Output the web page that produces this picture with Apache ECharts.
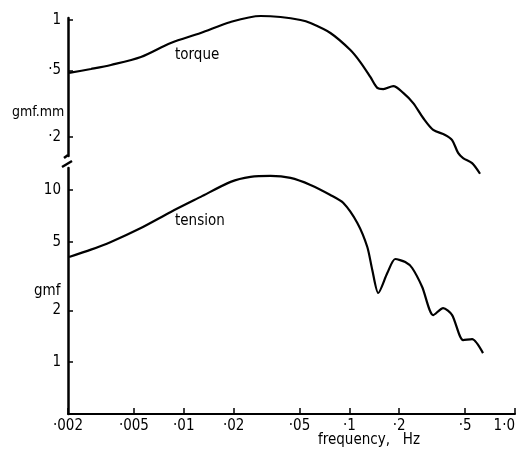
<!DOCTYPE html>
<html><head><meta charset="utf-8">
<script src="https://cdn.jsdelivr.net/npm/echarts@6/dist/echarts.min.js"></script>
<style>html,body{margin:0;padding:0;background:#fff}#c{width:525px;height:461px}</style>
</head><body><div id="c"></div>
<script>
// frequency (Hz) and torque (gmf.mm)
const torqueFreq = [0.00203,0.00275,0.00363,0.00551,0.00835,0.01265,0.01918,0.0291,0.0384,0.0507,0.0582,0.0768,0.1014,0.1164,0.1338,0.1474,0.1602,0.1841,0.2114,0.2429,0.2790,0.3206,0.3786,0.4172,0.4534,0.486,0.5506,0.615];
const torqueVal  = [0.482,0.509,0.538,0.600,0.728,0.836,0.973,1.057,1.042,1.000,0.959,0.836,0.661,0.560,0.456,0.392,0.386,0.402,0.366,0.318,0.259,0.220,0.205,0.191,0.160,0.149,0.139,0.120];
// frequency (Hz) and tension (gmf)
const tensionFreq = [0.00203,0.00275,0.00363,0.00551,0.00835,0.01265,0.01918,0.0253,0.0334,0.0441,0.0582,0.0768,0.0920,0.1117,0.1283,0.1375,0.1494,0.1694,0.1892,0.2174,0.2394,0.2752,0.3206,0.3682,0.4172,0.486,0.5506,0.641];
const tensionVal  = [4.08,4.50,4.99,6.01,7.45,9.11,11.13,11.90,12.06,11.74,10.69,9.35,8.40,6.43,4.66,3.43,2.52,3.29,3.97,3.81,3.52,2.73,1.876,2.06,1.876,1.342,1.36,1.128];

const xTicks = [0.002,0.005,0.01,0.02,0.05,0.1,0.2,0.5,1];
const xTickLabels = ['·002','·005','·01','·02','·05','·1','·2','·5','1·0'];
const torqueTicks = [0.2,0.5,1];
const torqueTickLabels = ['·2','·5','1'];
const tensionTicks = [1,2,5,10];
const tensionTickLabels = ['1','2','5','10'];

const FONT = "'Liberation Sans Narrow','DejaVu Sans Condensed','Liberation Sans',sans-serif";
function fmt(ticks, labels){
  return function(v){
    const i = ticks.findIndex(t => Math.abs(t - v) / t < 1e-4);
    return i >= 0 ? labels[i] : '';
  };
}
const chart = echarts.init(document.getElementById('c'), null, {renderer:'canvas'});
const axisLine = {show:true, lineStyle:{color:'#000', width:2.5}};
chart.setOption({
  animation:false,
  backgroundColor:'#fff',
  grid:[
    {left:68, right:10, top:18, height:138, outerBoundsMode:'none', containLabel:false},
    {left:68, right:10, top:168, height:246, outerBoundsMode:'none', containLabel:false}
  ],
  xAxis:[
    {type:'log', gridIndex:0, min:0.002, max:1, show:false},
    {type:'log', gridIndex:1, min:0.002, max:1,
     axisLine:{show:true, lineStyle:{color:'#000', width:2}},
     axisTick:{show:true, inside:true, length:6, customValues:xTicks, lineStyle:{color:'#000', width:1.5}},
     minorTick:{show:false}, splitLine:{show:false},
     axisLabel:{show:true, customValues:xTicks, formatter:fmt(xTicks,xTickLabels), color:'#000', fontFamily:FONT, fontSize:15, margin:5, showMinLabel:true, showMaxLabel:true, alignMaxLabel:'right'}
    }
  ],
  yAxis:[
    {type:'log', gridIndex:0, min:0.1533, max:1.028,
     axisLine:axisLine,
     axisTick:{show:true, inside:true, length:5, customValues:torqueTicks, lineStyle:{color:'#000', width:1.5}},
     splitLine:{show:false}, minorTick:{show:false},
     axisLabel:{show:true, customValues:torqueTicks, formatter:fmt(torqueTicks,torqueTickLabels), color:'#000', fontFamily:FONT, fontSize:15, margin:7}
    },
    {type:'log', gridIndex:1, min:0.5, max:13.4,
     axisLine:axisLine,
     axisTick:{show:true, inside:true, length:5, customValues:tensionTicks, lineStyle:{color:'#000', width:1.5}},
     splitLine:{show:false}, minorTick:{show:false},
     axisLabel:{show:true, customValues:tensionTicks, formatter:fmt(tensionTicks,tensionTickLabels), color:'#000', fontFamily:FONT, fontSize:15, margin:7}
    }
  ],
  series:[
    {type:'line', xAxisIndex:0, yAxisIndex:0, data:torqueFreq.map((f,i)=>[f,torqueVal[i]]),
     showSymbol:false, smooth:0.3, clip:false, lineStyle:{color:'#000', width:2.2}},
    {type:'line', xAxisIndex:1, yAxisIndex:1, data:tensionFreq.map((f,i)=>[f,tensionVal[i]]),
     showSymbol:false, smooth:0.25, clip:false, lineStyle:{color:'#000', width:2.2}}
  ],
  graphic:[
    {type:'text', left:175, top:48, style:{text:'torque', font:'15px '+FONT, fill:'#000'}},
    {type:'text', left:175, top:214, style:{text:'tension', font:'15px '+FONT, fill:'#000'}},
    {type:'text', left:12, top:105, style:{text:'gmf.mm', font:'14px '+FONT, fill:'#000'}},
    {type:'text', left:34, top:284, style:{text:'gmf', font:'15px '+FONT, fill:'#000'}},
    {type:'text', left:318, top:433, style:{text:'frequency,   Hz', font:'15px '+FONT, fill:'#000'}},
    {type:'polyline', shape:{points:[[68,155],[64,158]]}, style:{stroke:'#000', lineWidth:2.5, fill:null}},
    {type:'polyline', shape:{points:[[62,167],[72,161]]}, style:{stroke:'#000', lineWidth:2.5, fill:null}}
  ]
});
</script></body></html>
